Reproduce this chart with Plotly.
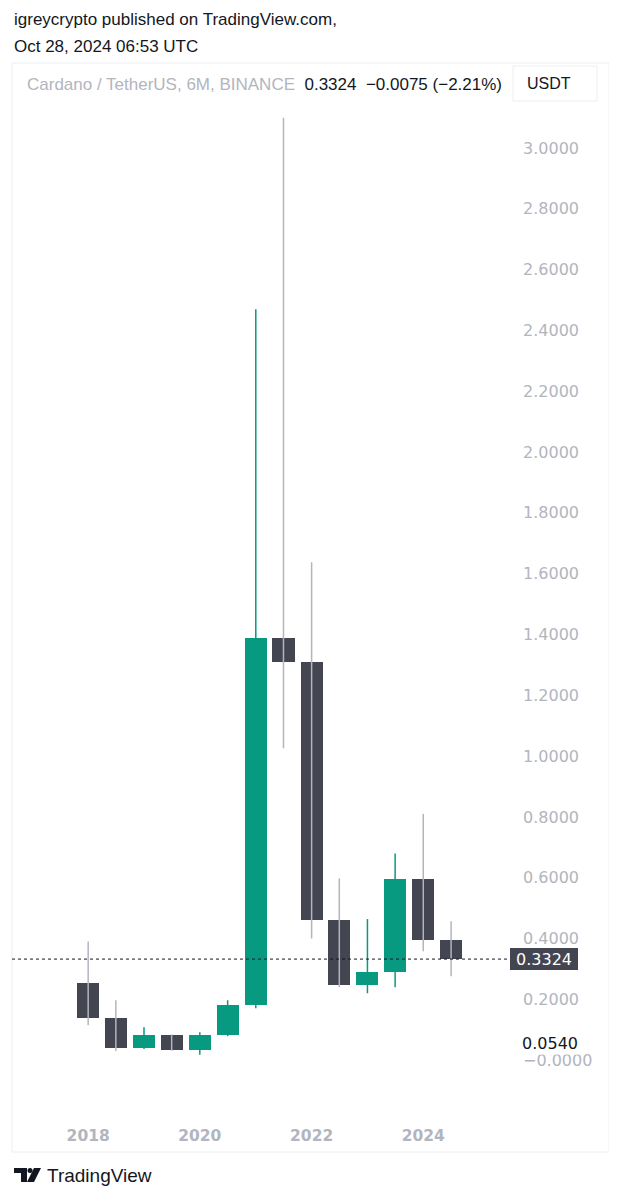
import plotly.graph_objects as go

# ---------------- data ----------------
periods = ["2018-01-01", "2018-07-01", "2019-01-01", "2019-07-01", "2020-01-01",
           "2020-07-01", "2021-01-01", "2021-07-01", "2022-01-01", "2022-07-01",
           "2023-01-01", "2023-07-01", "2024-01-01", "2024-07-01"]
opens = [0.255, 0.138, 0.039, 0.082, 0.033, 0.082, 0.181, 1.388, 1.310, 0.460,
         0.246, 0.290, 0.595, 0.395]
highs = [0.390, 0.197, 0.108, 0.085, 0.092, 0.197, 2.470, 3.100, 1.638, 0.598,
         0.464, 0.680, 0.810, 0.457]
lows = [0.115, 0.030, 0.037, 0.031, 0.018, 0.079, 0.171, 1.026, 0.400, 0.240,
        0.220, 0.240, 0.358, 0.276]
closes = [0.138, 0.039, 0.082, 0.033, 0.082, 0.181, 1.388, 1.310, 0.460, 0.246,
          0.290, 0.595, 0.395, 0.3324]

x_tick_dates = ["2018-01-01", "2020-01-01", "2022-01-01", "2024-01-01"]
x_tick_labels = ["2018", "2020", "2022", "2024"]
y_tick_vals = [0.0, 0.2, 0.4, 0.6, 0.8, 1.0, 1.2, 1.4, 1.6, 1.8, 2.0, 2.2, 2.4,
               2.6, 2.8, 3.0]
y_tick_labels = ["\u22120.0000", "0.2000", "0.4000", "0.6000", "0.8000", "1.0000",
                 "1.2000", "1.4000", "1.6000", "1.8000", "2.0000", "2.2000",
                 "2.4000", "2.6000", "2.8000", "3.0000"]
last_price = 0.3324
marker_price = 0.0540

# ---------------- style ----------------
UP = "#089981"
DOWN = "#434651"
WICK_DOWN = "#b2b5be"
AXIS_TXT = "#b2b5be"
TXT = "#131722"
FONT = "Liberation Sans, Arial, sans-serif"
NUMFONT = "DejaVu Sans, sans-serif"

# page is offset by the 8px body margin: figure occupies page x 8..617, y 8..1200
W, H = 609, 1192
ML, MR, MT, MB = 4, 109, 92, 90
PW, PH = W - ML - MR, H - MT - MB
PLOT_LEFT_PAGE, PLOT_BOTTOM_PAGE = 12, 1110


def px_x(p):
    return (p - PLOT_LEFT_PAGE) / PW


def px_y(p):
    return (PLOT_BOTTOM_PAGE - p) / PH


DAY_MS = 86400000
bar_width = 0.79 * 182.6 * DAY_MS

fig = go.Figure()

# wicks
for up in (True, False):
    wx, wy = [], []
    for d, o, h, l, c in zip(periods, opens, highs, lows, closes):
        if (c >= o) == up:
            wx += [d, d, None]
            wy += [l, h, None]
    fig.add_trace(go.Scatter(
        x=wx, y=wy, mode="lines",
        line=dict(color=UP if up else WICK_DOWN, width=1.5),
        hoverinfo="skip", showlegend=False))

# bodies
bases = [min(o, c) for o, c in zip(opens, closes)]
heights = [abs(c - o) for o, c in zip(opens, closes)]
colors = [UP if c >= o else DOWN for o, c in zip(opens, closes)]
fig.add_trace(go.Bar(
    x=periods, y=heights, base=bases, width=[bar_width] * len(periods),
    marker=dict(color=colors, line=dict(width=0)), showlegend=False,
    customdata=list(zip(opens, highs, lows, closes)),
    hovertemplate="O %{customdata[0]}<br>H %{customdata[1]}<br>L %{customdata[2]}<br>C %{customdata[3]}<extra></extra>"))

shapes = [
    # chart frame
    dict(type="rect", xref="paper", yref="paper",
         x0=px_x(12), x1=px_x(609), y0=px_y(1152), y1=px_y(63),
         line=dict(color="#eceef2", width=1), layer="below"),
    # USDT button
    dict(type="rect", xref="paper", yref="paper",
         x0=px_x(513), x1=px_x(597), y0=px_y(101), y1=px_y(66),
         line=dict(color="#eceef2", width=1)),
    # last price dotted line
    dict(type="line", xref="paper", yref="y", x0=0, x1=1,
         y0=last_price, y1=last_price,
         line=dict(color=TXT, width=1, dash="dot")),
    # last price label background
    dict(type="rect", xref="paper", yref="y", xsizemode="pixel", ysizemode="pixel",
         xanchor=1, yanchor=last_price, x0=2, x1=70, y0=-11, y1=11,
         fillcolor=DOWN, line=dict(width=0)),
    # TradingView logo
    dict(type="path", xref="paper", yref="paper",
         path=("M {a},{b} L {c},{b} L {c},{d} L {e},{d} L {e},{f} L {a},{f} Z").format(
             a=px_x(14), b=px_y(1168), c=px_x(27), d=px_y(1182), e=px_x(21), f=px_y(1173)),
         fillcolor=TXT, line=dict(width=0)),
    dict(type="circle", xref="paper", yref="paper",
         x0=px_x(27.5), x1=px_x(32.5), y0=px_y(1173), y1=px_y(1168),
         fillcolor=TXT, line=dict(width=0)),
    dict(type="path", xref="paper", yref="paper",
         path=("M {a},{b} L {c},{b} L {d},{e} L {f},{e} Z").format(
             a=px_x(34), b=px_y(1168), c=px_x(41), d=px_x(34), e=px_y(1182), f=px_x(27)),
         fillcolor=TXT, line=dict(width=0)),
]

annotations = [
    dict(text="igreycrypto published on TradingView.com,", xref="paper", yref="paper",
         x=px_x(12), y=px_y(20), xanchor="left", yanchor="middle", showarrow=False,
         font=dict(size=17, color=TXT)),
    dict(text="Oct 28, 2024 06:53 UTC", xref="paper", yref="paper",
         x=px_x(12), y=px_y(47), xanchor="left", yanchor="middle", showarrow=False,
         font=dict(size=17, color=TXT)),
    dict(text=("<span style='color:#b2b5be'>Cardano / TetherUS, 6M, BINANCE</span>"
               "  0.3324  \u22120.0075 (\u22122.21%)"),
         xref="paper", yref="paper", x=px_x(25), y=px_y(85), xanchor="left",
         yanchor="middle", showarrow=False, font=dict(size=17, color=TXT)),
    dict(text="USDT", xref="paper", yref="paper", x=px_x(549), y=px_y(84),
         xanchor="center", yanchor="middle", showarrow=False,
         font=dict(size=16, color=TXT)),
    dict(text="0.3324", xref="paper", yref="y", x=1, xshift=36, y=last_price,
         xanchor="center", yanchor="middle", showarrow=False,
         font=dict(size=16, color="#ffffff", family=NUMFONT)),
    dict(text="0.0540", xref="paper", yref="y", x=1, xshift=12, y=marker_price,
         xanchor="left", yanchor="middle", showarrow=False, bgcolor="#ffffff",
         borderpad=1, font=dict(size=16, color=TXT, family=NUMFONT)),
    dict(text="TradingView", xref="paper", yref="paper", x=px_x(45), y=px_y(1175),
         xanchor="left", yanchor="middle", showarrow=False,
         font=dict(size=19, color=TXT)),
]

fig.update_layout(
    width=W, height=H,
    margin=dict(l=ML, r=MR, t=MT, b=MB, pad=0),
    paper_bgcolor="#ffffff", plot_bgcolor="#ffffff",
    font=dict(family=FONT),
    bargap=0, barmode="overlay",
    showlegend=False,
    shapes=shapes, annotations=annotations,
    xaxis=dict(type="date", range=["2016-08-21", "2025-07-08"],
               tickmode="array", tickvals=x_tick_dates, ticktext=x_tick_labels,
               showgrid=False, zeroline=False, showline=False, ticks="",
               ticklabelstandoff=14,
               tickfont=dict(size=15.5, color=AXIS_TXT, weight="bold", family=NUMFONT)),
    yaxis=dict(side="right", range=[-0.164, 3.158],
               tickmode="array", tickvals=y_tick_vals, ticktext=y_tick_labels,
               showgrid=False, zeroline=False, showline=False, ticks="",
               ticklabelstandoff=14,
               tickfont=dict(size=16, color=AXIS_TXT, family=NUMFONT)),
)

fig.write_html("out.html")
